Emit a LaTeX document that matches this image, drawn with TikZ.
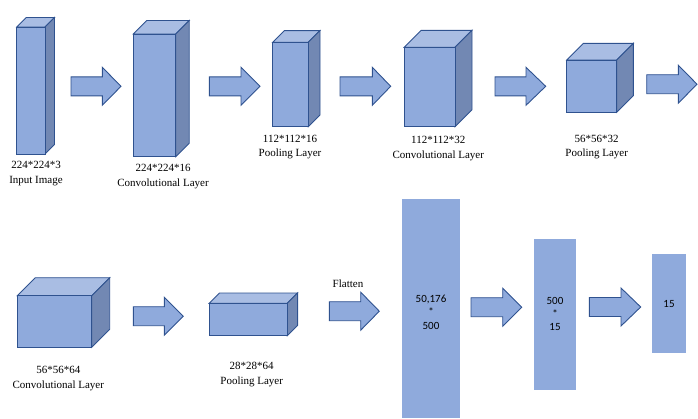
\documentclass[tikz,border=0pt]{standalone}
\usepackage{fontspec}
\setmainfont{Liberation Serif}
\newfontfamily\calibri{Carlito}
\definecolor{frontc}{HTML}{8FAADC}
\definecolor{topc}{HTML}{A9BDE3}
\definecolor{sidec}{HTML}{7288B3}
\definecolor{edgec}{HTML}{2F528F}
\tikzset{
  face/.style={draw=edgec, line width=0.9pt, line join=miter},
  blockarrow/.style={draw=edgec, fill=frontc, line width=0.9pt},
  fcbox/.style={fill=frontc},
  caption/.style={align=center, font=\fontsize{11}{14.5}\selectfont, inner sep=0pt},
  boxtext/.style={align=center, font=\calibri\fontsize{11}{13.3}\selectfont, inner sep=0pt}
}
% cube: x1,y1,x2,y2,depth
\newcommand\cubeblk[5]{%
  \filldraw[face, fill=topc] (#1,#2) -- (#1+#5,#2-#5) -- (#3+#5,#2-#5) -- (#3,#2) -- cycle;
  \filldraw[face, fill=sidec] (#3,#2) -- (#3+#5,#2-#5) -- (#3+#5,#4-#5) -- (#3,#4) -- cycle;
  \filldraw[face, fill=frontc] (#1,#2) rectangle (#3,#4);
}
% block arrow: x1, xhead, xtip, ycentre
\newcommand\barrow[4]{%
  \filldraw[blockarrow] (#1,#4-9.5) -- (#2,#4-9.5) -- (#2,#4-19) -- (#3,#4) -- (#2,#4+19) -- (#2,#4+9.5) -- (#1,#4+9.5) -- cycle;
}
\begin{document}
\begin{tikzpicture}[x=1pt,y=-1pt]
\useasboundingbox (0,0) rectangle (698,418);
% top row
\cubeblk{16.7}{27}{45}{154}{9.5}
\barrow{71}{102.3}{121}{86.3}
\cubeblk{133.3}{34}{175.7}{156.7}{13.5}
\barrow{209.3}{241}{260}{86.3}
\cubeblk{272.7}{42.3}{308.3}{126.7}{11.7}
\barrow{340}{372.3}{390.7}{86.3}
\cubeblk{404.3}{47.3}{455}{126.7}{17}
\barrow{495}{526}{545.7}{86.3}
\cubeblk{566.7}{60}{616.7}{112.3}{16.7}
\barrow{646.7}{678.3}{697}{84.2}
% bottom row
\cubeblk{17.3}{295.7}{91.7}{347.3}{18}
\barrow{133.3}{164.3}{183.3}{316.2}
\cubeblk{209.3}{303.3}{287.3}{335.7}{10.3}
\barrow{329.3}{360.7}{379.3}{311.2}
\fill[fcbox] (402.3,199) rectangle (460,418);
\barrow{471}{502.7}{521.7}{307.2}
\fill[fcbox] (534,239) rectangle (576,390);
\barrow{589.3}{621}{640.7}{307}
\fill[fcbox] (651.7,254) rectangle (686,352.7);
% captions
\node[caption] (l1) at (36,173.3) {224*224*3\\Input Image};
\node[caption] (l2) at (163,176.3) {224*224*16\\Convolutional Layer};
\node[caption] (l3) at (290,147.2) {112*112*16\\Pooling Layer};
\node[caption] (l4) at (438.3,148.3) {112*112*32\\Convolutional Layer};
\node[caption] (l5) at (596.7,147.2) {56*56*32\\Pooling Layer};
\node[caption] (l6) at (58.3,378.3) {56*56*64\\Convolutional Layer};
\node[caption] (l7) at (251.7,374.7) {28*28*64\\Pooling Layer};
\node[caption] (fl) at (348,283.3) {Flatten};
\node[boxtext] (t1) at (431,312.3) {50,176\\*\\500};
\node[boxtext] (t2) at (555,314) {500\\*\\15};
\node[boxtext] (t3) at (669,304) {15};
\end{tikzpicture}
\end{document}
